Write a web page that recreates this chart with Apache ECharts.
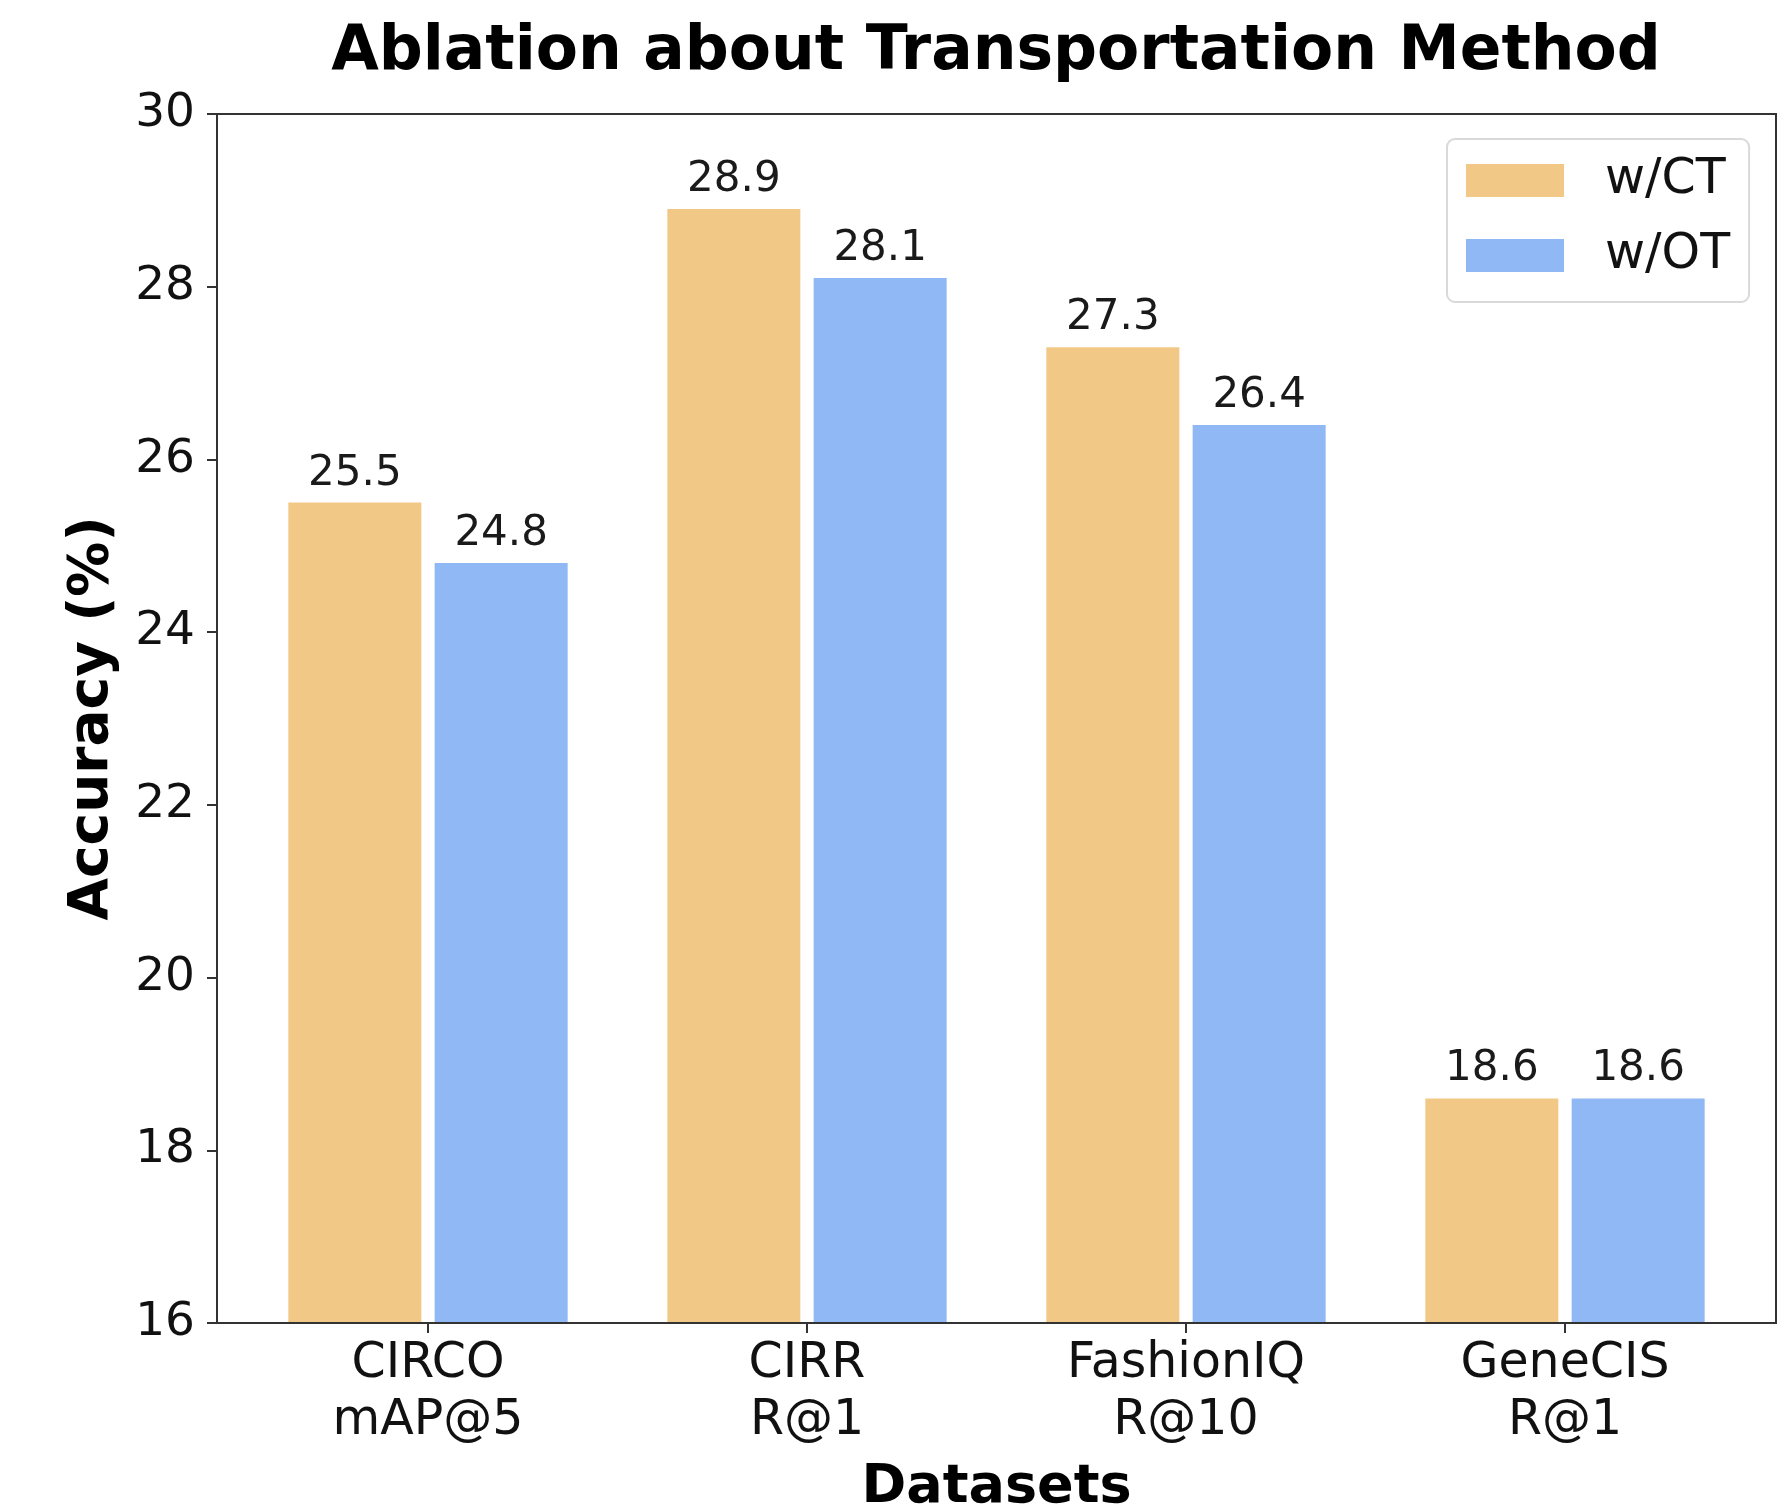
<!DOCTYPE html>
<html>
<head>
<meta charset="utf-8">
<script src="https://cdn.jsdelivr.net/npm/echarts@6/dist/echarts.min.js"></script>
<style>html,body{margin:0;padding:0;background:#fff;}#c{width:1785px;height:1509px;}</style>
</head>
<body>
<div id="c"></div>
<script>
const categories = ['CIRCO\nmAP@5', 'CIRR\nR@1', 'FashionIQ\nR@10', 'GeneCIS\nR@1'];
const seriesNames = ['w/CT', 'w/OT'];
const ctValues = [25.5, 28.9, 27.3, 18.6];
const otValues = [24.8, 28.1, 26.4, 18.6];
const yTicks = [16, 18, 20, 22, 24, 26, 28, 30];

const FONT = 'DejaVu Sans';
const chart = echarts.init(document.getElementById('c'), null, {renderer: 'canvas'});
const yMin = yTicks[0], yMax = yTicks[yTicks.length - 1], yStep = yTicks[1] - yTicks[0];
const labelStyle = {show: true, position: 'top', distance: 8, fontFamily: FONT, fontSize: 42, color: '#1a1a1a',
  formatter: p => p.value.toFixed(1)};

chart.setOption({
  animation: false,
  backgroundColor: '#fff',
  title: {
    text: 'Ablation about Transportation Method',
    left: 996, textAlign: 'center', top: 22, padding: 0,
    textStyle: {fontFamily: FONT, fontWeight: 'bold', fontSize: 61.5, color: '#000'}
  },
  legend: {
    data: seriesNames,
    orient: 'vertical',
    left: 1447, top: 139,
    padding: [17, 19, 22, 19],
    itemWidth: 98, itemHeight: 33, itemGap: 26,
    borderColor: '#d9d9d9', borderWidth: 2, borderRadius: 8,
    backgroundColor: '#fff',
    icon: 'rect',
    textStyle: {fontFamily: FONT, fontSize: 49, color: '#111', lineHeight: 48, padding: [0, 0, 0, 36]}
  },
  grid: [
    {left: 217, right: 9, top: 114, bottom: 186, outerBoundsMode: 'none', containLabel: false,
      show: true, borderColor: '#333', borderWidth: 2, backgroundColor: 'transparent'},
    {left: 238.5, right: 30.5, top: 114, bottom: 186, outerBoundsMode: 'none', containLabel: false}
  ],
  xAxis: [
    {gridIndex: 0, type: 'value', min: 0, max: 1, z: 10,
      axisLine: {show: true, onZero: false, lineStyle: {color: '#333', width: 2}},
      axisTick: {show: false}, axisLabel: {show: false}, splitLine: {show: false},
      name: 'Datasets', nameLocation: 'middle', nameGap: 138,
      nameTextStyle: {fontFamily: FONT, fontWeight: 'bold', fontSize: 54, color: '#000'}},
    {gridIndex: 1, type: 'category', data: categories, z: 10,
      axisLine: {show: false},
      axisTick: {show: true, alignWithLabel: true, length: 10, lineStyle: {color: '#333', width: 2}},
      axisLabel: {fontFamily: FONT, fontSize: 49, color: '#111', lineHeight: 57, margin: 13}}
  ],
  yAxis: [
    {gridIndex: 0, type: 'value', min: yMin, max: yMax, interval: yStep, z: 10,
      axisLine: {show: true, onZero: false, lineStyle: {color: '#333', width: 2}},
      axisTick: {show: true, length: 10, lineStyle: {color: '#333', width: 2}},
      axisLabel: {fontFamily: FONT, fontSize: 47, color: '#111', margin: 22},
      splitLine: {show: false},
      name: 'Accuracy (%)', nameLocation: 'middle', nameGap: 97,
      nameTextStyle: {fontFamily: FONT, fontWeight: 'bold', fontSize: 55, color: '#000'}},
    {gridIndex: 1, type: 'value', min: yMin, max: yMax, interval: yStep, show: false}
  ],
  series: [
    {name: seriesNames[0], type: 'bar', xAxisIndex: 1, yAxisIndex: 1, data: ctValues,
      barWidth: 133, barGap: '10%', itemStyle: {color: '#F2C886'}, label: labelStyle},
    {name: seriesNames[1], type: 'bar', xAxisIndex: 1, yAxisIndex: 1, data: otValues,
      barWidth: 133, barGap: '10%', itemStyle: {color: '#8FB8F4'}, label: labelStyle}
  ]
});
</script>
</body>
</html>
